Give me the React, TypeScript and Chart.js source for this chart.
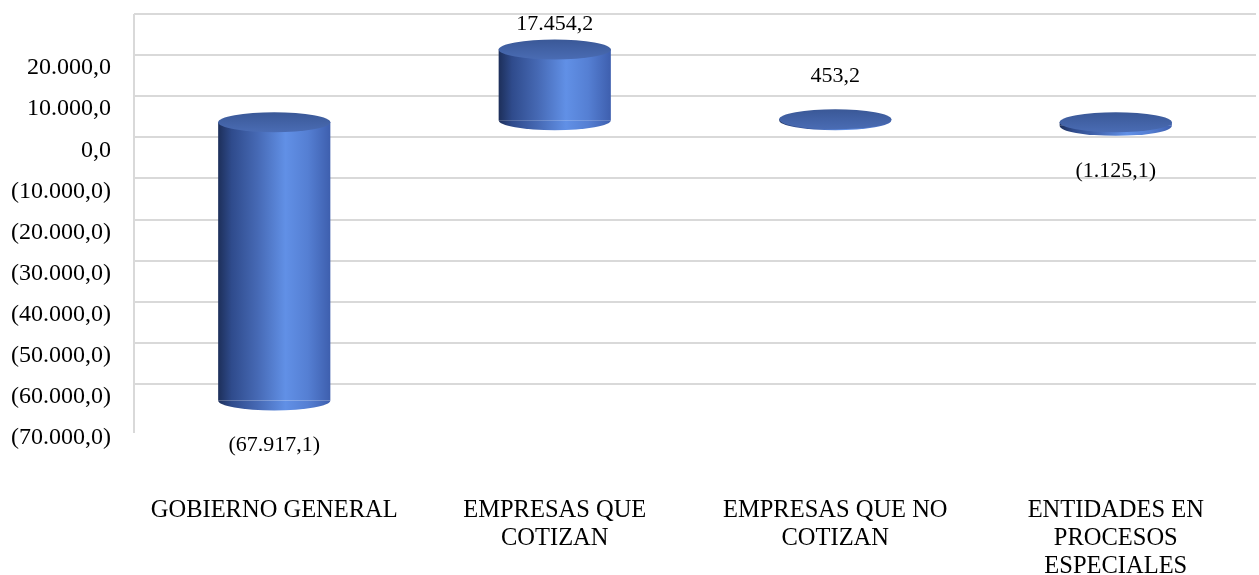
import React, { useEffect, useRef } from "react";
import { Chart, registerables } from "chart.js";

Chart.register(...registerables);

const categories: string[][] = [
  ["GOBIERNO GENERAL"],
  ["EMPRESAS QUE", "COTIZAN"],
  ["EMPRESAS QUE NO", "COTIZAN"],
  ["ENTIDADES EN", "PROCESOS", "ESPECIALES"],
];
const values: number[] = [-67917.1, 17454.2, 453.2, -1125.1];
const yMin = -70000;
const yMax = 20000;
const yStep = 10000;

const FONT = "'Liberation Serif', 'Times New Roman', serif";
const DEPTH = 25; // 3D depth offset of the cylinders
const RY = 10; // vertical radius of cylinder caps
const BAR_PCT = 0.4;

function fmt(v: number): string {
  const abs = Math.abs(v);
  const fixed = abs.toFixed(1);
  const [ip, dp] = fixed.split(".");
  const withSep = ip.replace(/\B(?=(\d{3})+(?!\d))/g, ".");
  const s = withSep + "," + dp;
  return v < 0 ? "(" + s + ")" : s;
}

function bodyGradient(ctx: CanvasRenderingContext2D, x: number, w: number) {
  const g = ctx.createLinearGradient(x - w / 2, 0, x + w / 2, 0);
  g.addColorStop(0, "#1d2f5a");
  g.addColorStop(0.12, "#2f4b8c");
  g.addColorStop(0.35, "#4669b4");
  g.addColorStop(0.6, "#6190e6");
  g.addColorStop(0.8, "#557fd3");
  g.addColorStop(1, "#3e5fae");
  return g;
}

const cylinderPlugin = {
  id: "cylinder3d",
  beforeDatasetsDraw(chart: any) {
    const ctx: CanvasRenderingContext2D = chart.ctx;
    const area = chart.chartArea;
    // side wall edge line
    ctx.save();
    ctx.strokeStyle = "#d9d9d9";
    ctx.lineWidth = 2;
    ctx.beginPath();
    ctx.moveTo(area.left, area.top);
    ctx.lineTo(area.left, area.bottom + 49);
    ctx.stroke();
    ctx.restore();

    ctx.save();
    ctx.translate(0, DEPTH);
  },
  afterDatasetsDraw(chart: any) {
    const ctx: CanvasRenderingContext2D = chart.ctx;
    const meta = chart.getDatasetMeta(0);
    meta.data.forEach((el: any) => {
      const p = el.getProps(["x", "y", "base", "width"], true);
      const top = Math.min(p.y, p.base);
      const bot = Math.max(p.y, p.base);
      const rx = p.width / 2;
      ctx.beginPath();
      ctx.ellipse(p.x, bot, rx, RY, 0, 0, Math.PI);
      ctx.closePath();
      ctx.fillStyle = bodyGradient(ctx, p.x, p.width);
      ctx.fill();
      const cg = ctx.createLinearGradient(0, top - RY, 0, top + RY);
      cg.addColorStop(0, "#3a5897");
      cg.addColorStop(1, "#4a6cb4");
      ctx.beginPath();
      ctx.ellipse(p.x, top, rx, RY, 0, 0, Math.PI * 2);
      ctx.fillStyle = cg;
      ctx.fill();
    });
    ctx.restore();
  },
  afterDraw(chart: any) {
    const ctx: CanvasRenderingContext2D = chart.ctx;
    const area = chart.chartArea;
    const yScale = chart.scales.y;
    const meta = chart.getDatasetMeta(0);
    ctx.save();
    ctx.font = "22px " + FONT;
    ctx.fillStyle = "#000";
    ctx.textAlign = "center";
    ctx.textBaseline = "middle";
    values.forEach((v, i) => {
      const el: any = meta.data[i];
      const x = el.getProps(["x"], true).x;
      const py = yScale.getPixelForValue(v);
      let ty = v >= 0 ? py - 18 : py + 70;
      if (ty < area.top + 10) ty = area.top + 10;
      ctx.fillText(fmt(v), x, ty);
    });
    ctx.restore();
  },
};

export default function App() {
  const ref = useRef<HTMLCanvasElement | null>(null);
  useEffect(() => {
    if (!ref.current) return;
    const chart = new Chart(ref.current, {
      type: "bar",
      data: {
        labels: categories,
        datasets: [
          {
            data: values,
            backgroundColor: (c: any) => {
              const ch = c.chart;
              const xs = ch.scales && ch.scales.x;
              if (!ch.chartArea || !xs || c.dataIndex === undefined) return "#4a6cb4";
              const x = xs.getPixelForValue(c.dataIndex);
              const w = (xs.width / categories.length) * BAR_PCT;
              return bodyGradient(ch.ctx, x, w);
            },
            borderWidth: 0,
            barPercentage: BAR_PCT,
            categoryPercentage: 1,
            clip: false as any,
          },
        ],
      },
      options: {
        responsive: false,
        animation: false,
        layout: { padding: { top: 14, right: 3, left: 0, bottom: 0 } },
        plugins: { legend: { display: false }, tooltip: { enabled: false } },
        scales: {
          x: {
            grid: { display: false, drawTicks: false },
            border: { display: false },
            ticks: {
              padding: 113,
              color: "#000",
              maxRotation: 0,
              autoSkip: false,
              font: { family: FONT, size: 24.5, lineHeight: "28px" as any },
            },
            afterFit: (s: any) => {
              s.height = 191;
              s.paddingLeft = 0;
              s.paddingRight = 0;
            },
          },
          y: {
            min: yMin,
            max: yMax,
            grid: { color: "#d9d9d9", lineWidth: 2, drawTicks: false },
            border: { display: false },
            ticks: {
              stepSize: yStep,
              labelOffset: 54,
              padding: 23,
              color: "#000",
              font: { family: FONT, size: 24 },
              callback: (v: any) => fmt(Number(v)),
            },
            afterFit: (s: any) => {
              s.width = 134;
              s.paddingTop = 0;
              s.paddingBottom = 0;
            },
          },
        },
      },
      plugins: [cylinderPlugin],
    });
    return () => chart.destroy();
  }, []);
  return (
    <div style={{ position: "absolute", left: 0, top: 0, width: 1259, height: 575, background: "#fff" }}>
      <canvas ref={ref} width={1259} height={575} />
    </div>
  );
}
